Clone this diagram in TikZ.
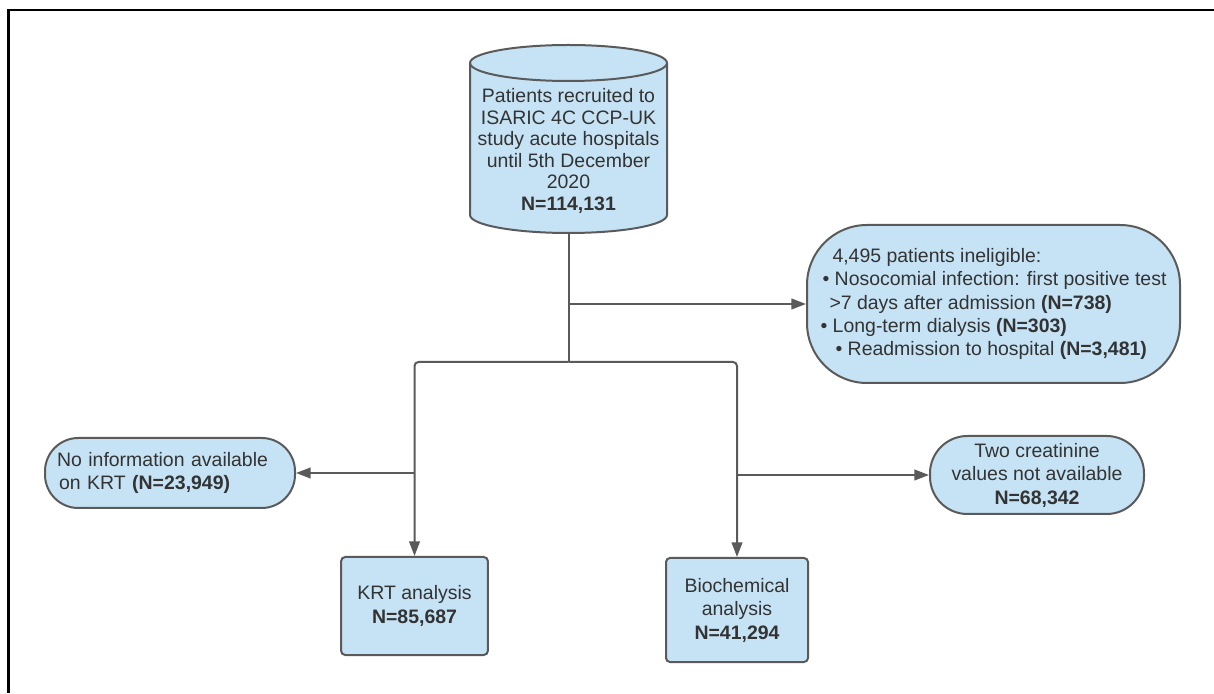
\documentclass[tikz,border=0pt]{standalone}
\usepackage{fontspec}
\setmainfont{Liberation Sans}
\usetikzlibrary{arrows.meta}
\definecolor{boxfill}{HTML}{C6E3F5}
\definecolor{edge}{HTML}{5A5A5A}
\definecolor{ink}{HTML}{333333}
\tikzset{
  box/.style={draw=edge, fill=boxfill, line width=1.5pt, text=ink,
    font=\fontsize{14.6}{17.6}\selectfont, inner sep=0pt, align=center},
  flow/.style={draw=edge, line width=1.5pt, -{Triangle[length=11pt,width=8pt]}},
  link/.style={draw=edge, line width=1.5pt}
}
\begin{document}
\begin{tikzpicture}[x=0.75pt,y=0.75pt]
\useasboundingbox (0,0) rectangle (1214,693);
% outer frame (top and left edges)
\draw[black, line width=1.9pt] (8.5,0) -- (8.5,683) -- (1214,683);

% source database (cylinder)
\path[draw=edge, fill=boxfill, line width=1.5pt]
  (470,630) -- (470,478)
  arc[start angle=180, end angle=360, x radius=73.875pt, y radius=13.5pt]
  -- (667,630)
  arc[start angle=0, end angle=180, x radius=73.875pt, y radius=13.5pt] -- cycle;
\draw[edge, line width=1.5pt] (470,630)
  arc[start angle=180, end angle=360, x radius=73.875pt, y radius=13.5pt];
\node[text=ink, align=center, font=\fontsize{14.6}{16.1}\selectfont] (src) at (568.5,542)
  {Patients recruited to\\ISARIC 4C CCP-UK\\study acute hospitals\\until 5th December\\2020\\\textbf{N=114,131}};
\coordinate (srcbot) at (568.5,460);
\coordinate (split) at (568.5,331);

% exclusion and outcome boxes
\node[box, rounded corners=45pt, minimum width=279.75pt, minimum height=118.5pt, align=left] (inel) at (993.5,389)
  {\hspace{9pt}4,495 patients ineligible:\\
   \hspace{1.5pt}• Nosocomial infection: first positive test\\
   \hspace{6.75pt}>7 days after admission \textbf{(N=738)}\\
   • Long-term dialysis \textbf{(N=303)}\\
   \hspace{11.25pt}• Readmission to hospital \textbf{(N=3,481)}};
\node[box, rounded corners=25pt, minimum width=187.5pt, minimum height=52.5pt,
      text width=169.5pt, align=left] (noinfo) at (170,220)
  {No information available\\\hspace{1.5pt}on KRT \textbf{(N=23,949)}};
\node[box, rounded corners=28pt, minimum width=160.5pt, minimum height=58.5pt] (twoc) at (1037,218)
  {Two creatinine\\values not available\\\textbf{N=68,342}};
\node[box, rounded corners=3pt, minimum width=110pt, minimum height=73.5pt] (krt) at (414.5,87)
  {KRT analysis\\\textbf{N=85,687}};
\node[box, rounded corners=3pt, minimum width=106.5pt, minimum height=78pt] (bio) at (737,83)
  {Biochemical\\analysis\\\textbf{N=41,294}};

% connectors
\draw[link] (srcbot) -- (split);
\draw[flow] (srcbot |- inel.west) -- (inel.west);
\draw[flow, rounded corners=3pt] (split) -| (krt.north);
\draw[flow, rounded corners=3pt] (split) -| (bio.north);
\draw[flow] (krt.north |- noinfo.east) -- (noinfo.east);
\draw[flow] (bio.north |- twoc.west) -- (twoc.west);
\end{tikzpicture}
\end{document}
